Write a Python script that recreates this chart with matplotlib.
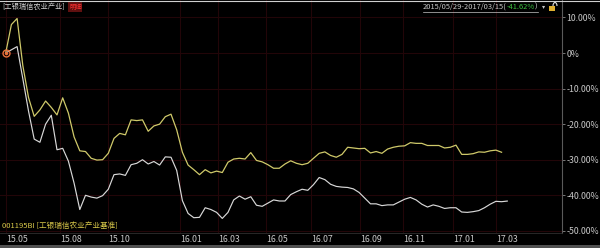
import numpy as np
import matplotlib
matplotlib.use('Agg')
import matplotlib.pyplot as plt
from matplotlib.lines import Line2D
from matplotlib.patches import Rectangle, Arc

plt.rcParams['font.family'] = ['Noto Sans CJK SC', 'DejaVu Sans']

# weekly cumulative return (%), fund and its benchmark
fund = [0.0, 0.9, 1.8, -7.2, -16.3, -24.2, -25.1, -20.0, -17.5, -27.2,
        -26.8, -30.4, -36.6, -44.0, -40.0, -40.5, -40.8, -40.1, -38.3, -34.2,
        -34.0, -34.4, -31.4, -31.0, -30.0, -31.2, -30.5, -31.5, -29.2, -29.3,
        -33.0, -41.5, -45.1, -46.3, -46.2, -43.5, -44.0, -44.8, -46.5, -44.8,
        -41.3, -40.2, -41.1, -40.4, -42.8, -43.1, -42.2, -41.3, -41.6, -41.6,
        -39.8, -39.0, -38.3, -38.6, -37.0, -35.0, -35.6, -36.9, -37.5, -37.7,
        -37.8, -38.2, -39.2, -40.8, -42.4, -42.4, -42.9, -42.7, -42.7, -41.9,
        -41.1, -40.6, -41.3, -42.5, -43.3, -42.7, -43.1, -43.7, -43.5, -43.5,
        -44.7, -44.8, -44.6, -44.3, -43.5, -42.5, -41.7, -41.8, -41.62]
bench = [0.0, 8.0, 9.7, -3.5, -12.5, -17.8, -16.0, -13.5, -15.3, -17.4,
         -12.6, -16.9, -23.6, -27.5, -27.7, -29.6, -30.1, -30.0, -28.2, -24.0,
         -22.6, -23.0, -18.8, -19.0, -18.8, -22.0, -20.5, -20.0, -17.9, -17.2,
         -21.6, -27.9, -31.5, -32.8, -34.2, -32.8, -33.7, -33.2, -33.6, -30.7,
         -29.8, -29.6, -29.8, -28.0, -30.2, -30.6, -31.4, -32.4, -32.4, -31.2,
         -30.3, -31.0, -31.4, -31.0, -29.6, -28.2, -27.8, -28.8, -29.3, -28.5,
         -26.5, -26.7, -26.9, -26.8, -28.1, -27.7, -28.2, -27.0, -26.5, -26.2,
         -26.1, -25.2, -25.4, -25.4, -26.0, -26.0, -26.0, -26.7, -26.5, -25.9,
         -28.5, -28.5, -28.3, -27.8, -27.9, -27.5, -27.3, -27.9]

x_tick_pos = [0, 9.5, 17.9, 30.6, 37.2, 45.7, 53.6, 62.2, 69.7, 78.5, 86.0]
x_tick_labels = ['15.05', '15.08', '15.10', '16.01', '16.03', '16.05',
                 '16.07', '16.09', '16.11', '17.01', '17.03']
y_ticks = [10, 0, -10, -20, -30, -40, -50]
y_tick_labels = ['10.00%', '0%', '-10.00%', '-20.00%', '-30.00%',
                 '-40.00%', '-50.00%']

fig = plt.figure(figsize=(6, 2.48), dpi=100, facecolor='black')
ax = fig.add_axes([0, 15 / 248, 562 / 600, 233 / 248], facecolor='black')

ax.plot(np.arange(len(bench)), bench, color='#cfc96a', lw=0.9)
ax.plot(np.arange(len(fund)), fund, color='#d8d8d8', lw=0.85)
ax.plot([0], [0], 'o', ms=5, mfc='none', mec='#e8703a', mew=1.0)
ax.plot([0], [0], 'o', ms=1.5, color='#e8703a')

ax.set_xlim(-1, 97.6)
ax.set_ylim(-50.6, 14.9)

ax.set_xticks(x_tick_pos)
ax.set_xticklabels(x_tick_labels)
for lbl in ax.get_xticklabels():
    lbl.set_horizontalalignment('left')
ax.set_yticks(y_ticks)
ax.set_yticklabels(y_tick_labels)
ax.yaxis.tick_right()
ax.tick_params(axis='x', length=0, pad=1.5, colors='#c8c8c8', labelsize=6.3)
ax.tick_params(axis='y', length=2, pad=1, colors='#8a8a8a', labelcolor='#c8c8c8',
               labelsize=6.3, width=0.6)
ax.grid(True, color='#220508', lw=0.8)

for s in ['left', 'top']:
    ax.spines[s].set_visible(False)
ax.spines['right'].set_color('#5a5a5a')
ax.spines['right'].set_linewidth(0.8)
ax.spines['bottom'].set_color('#2e2e2e')
ax.spines['bottom'].set_linewidth(0.6)

# header texts
fig.text(2 / 600, 1 - 7 / 248, '[工银瑞信农业产业]', color='#d0d0d0', fontsize=5.2,
         va='center', ha='left')
fig.text(69 / 600, 1 - 7 / 248, '明细', color='#ff3030', fontsize=4.6,
         va='center', ha='left',
         bbox=dict(boxstyle='square,pad=0.1', fc='#601010', ec='none'))
fig.text(2 / 600, 1 - 226 / 248, '001195BI [工银瑞信农业产业基准]', color='#d8c84a',
         fontsize=5.5, va='center', ha='left')

fig.canvas.draw()
r = fig.canvas.get_renderer()
x0 = 423
parts = [('2015/05/29-2017/03/15(', '#c8c8c8'), ('-41.62%', '#3cc040'), (')', '#c8c8c8')]
for txt, col in parts:
    t = fig.text(x0 / 600, 1 - 7 / 248, txt, color=col, fontsize=5.4, va='center', ha='left')
    bb = t.get_window_extent(r)
    x0 = bb.x1
x_end = x0
fig.add_artist(Line2D([423 / 600, x_end / 600], [1 - 11.5 / 248, 1 - 11.5 / 248],
                      color='#c8c8c8', lw=0.5))
fig.text((x_end + 4) / 600, 1 - 7 / 248, '▾', color='#c8c8c8', fontsize=4.5,
         va='center', ha='left', family='DejaVu Sans')

# lock icon (drawn as shapes)
fig.add_artist(Rectangle((549 / 600, 1 - 11 / 248), 6 / 600, 5 / 248,
                         transform=fig.transFigure, color='#e0b030', lw=0))
fig.add_artist(Arc((555 / 600, 1 - 6 / 248), 4 / 600, 7 / 248, theta1=0, theta2=180,
                   transform=fig.transFigure, color='#e0e0e0', lw=0.8))

# frame decorations
fig.add_artist(Line2D([0, 1], [1 - 0.5 / 248, 1 - 0.5 / 248], color='#d0d0d0', lw=0.8))
fig.add_artist(Rectangle((0, 0), 1, 3 / 248, transform=fig.transFigure,
                         color='#505050', lw=0))

fig.savefig('out.png', dpi=100, facecolor='black')
